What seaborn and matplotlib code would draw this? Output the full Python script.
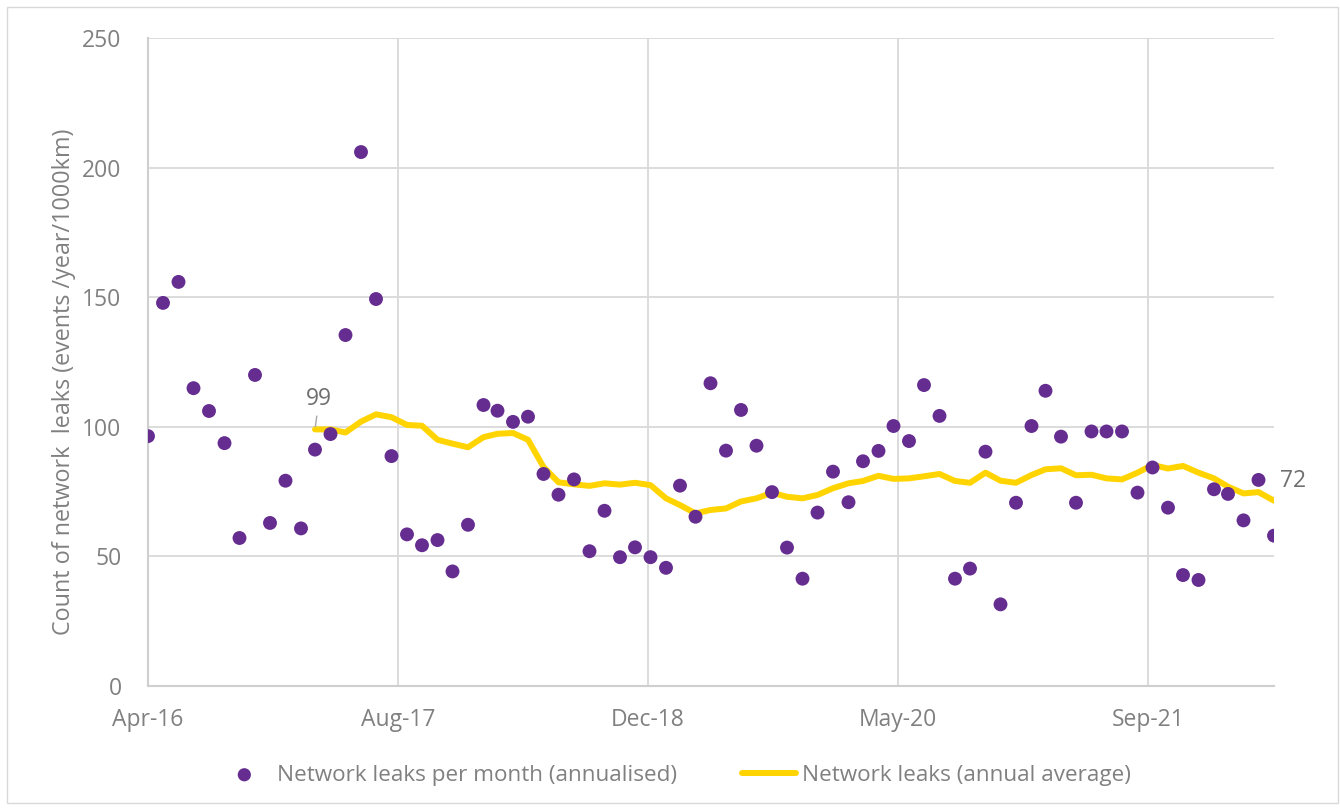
import matplotlib.pyplot as plt
import matplotlib.dates as mdates
import pandas as pd
import seaborn as sns
from matplotlib.patches import Rectangle

sns.set_style('white')
plt.rcParams['font.family'] = ['Open Sans', 'DejaVu Sans']

# network leaks per month, annualised (Apr-16 .. Jun-22)
monthly = [96.4, 147.8, 155.9, 114.9, 106.1, 93.7, 57.1, 120.0, 62.9, 79.2, 60.8, 91.2,
           97.2, 135.4, 206.0, 149.3, 88.7, 58.5, 54.3, 56.3, 44.2, 62.2, 108.4, 106.2,
           101.9, 103.9, 81.8, 73.8, 79.7, 52.0, 67.6, 49.7, 53.5, 49.7, 45.6, 77.3,
           65.3, 116.8, 90.8, 106.5, 92.7, 74.8, 53.4, 41.4, 66.9, 82.7, 70.9, 86.7,
           90.7, 100.3, 94.5, 116.1, 104.2, 41.4, 45.3, 90.4, 31.5, 70.7, 100.3, 113.9,
           96.2, 70.7, 98.2, 98.2, 98.2, 74.6, 84.3, 68.8, 42.8, 40.9, 75.9, 74.1,
           63.9, 79.5, 58.0]

# rolling annual average (Mar-17 .. Jun-22)
annual = [99.0, 99.0, 97.8, 102.0, 104.8, 103.7, 100.7, 100.4, 95.0, 93.5,
          92.1, 96.0, 97.3, 97.6, 95.0, 84.5, 78.6, 77.8, 77.2, 78.2, 77.7, 78.4,
          77.5, 72.4, 69.8, 66.6, 67.9, 68.5, 71.2, 72.4, 74.6, 73.0, 72.4, 73.7,
          76.3, 78.2, 79.1, 81.1, 79.9, 80.1, 80.9, 81.8, 79.1, 78.4, 82.3, 79.2,
          78.4, 81.4, 83.6, 84.0, 81.3, 81.5, 80.1, 79.7, 82.3, 85.3, 83.9, 84.9,
          82.3, 80.1, 76.9, 74.3, 74.8, 71.5]

# excel date axis: a label every 500 days
tick_dates = ['2016-04-01', '2017-08-14', '2018-12-27', '2020-05-10', '2021-09-22']

df = pd.DataFrame({'date': pd.date_range('2016-04-01', periods=len(monthly), freq='MS'),
                   'leaks': monthly})
df_avg = pd.DataFrame({'date': pd.date_range('2017-03-01', periods=len(annual), freq='MS'),
                       'avg': annual})

purple = '#662D91'
yellow = '#FFD400'
grey = '#808080'

fig = plt.figure(figsize=(13.4, 8.1), dpi=100)
ax = fig.add_axes([148/1340, 1 - 686/810, 1126/1340, 648/810])

sns.lineplot(data=df_avg, x='date', y='avg', color=yellow, linewidth=4.3,
             label='Network leaks (annual average)', ax=ax, zorder=2)
sns.scatterplot(data=df, x='date', y='leaks', color=purple, s=100, edgecolor='none',
                label='Network leaks per month (annualised)', ax=ax, zorder=3)

ax.set_ylim(0, 250)
ax.set_yticks(range(0, 251, 50))
ax.set_xlim(df['date'].iloc[0], df['date'].iloc[-1])
ax.set_xticks(pd.to_datetime(tick_dates))
ax.xaxis.set_major_formatter(mdates.DateFormatter('%b-%y'))

ax.grid(True, color='#d9d9d9', linewidth=1.3)
ax.set_axisbelow(True)
for side in ['top', 'right']:
    ax.spines[side].set_visible(False)
for side in ['left', 'bottom']:
    ax.spines[side].set_color('#cfcfcf')
    ax.spines[side].set_linewidth(1.5)
ax.tick_params(axis='y', length=0, pad=19, labelsize=16.5, labelcolor=grey)
ax.tick_params(axis='x', length=0, pad=16, labelsize=16.5, labelcolor=grey)

ax.set_xlabel('')
ax.set_ylabel('Count of network  leaks (events /year/1000km)', fontsize=16.8, color=grey)
ax.yaxis.set_label_coords(-0.064, 0.469)

# data labels at start and end of the average line
ax.annotate('99', xy=(df_avg['date'].iloc[0], annual[0]), xytext=(4, 30),
            textcoords='offset pixels', ha='center', va='center', fontsize=16.5, color='#6f6f6f',
            arrowprops=dict(arrowstyle='-', color='#a6a6a6', lw=1, shrinkA=1, shrinkB=2))
ax.annotate('72', xy=(df_avg['date'].iloc[-1], annual[-1]), xytext=(6, 20),
            textcoords='offset pixels', ha='left', va='center', fontsize=16.5, color='#6f6f6f')

handles, labels = ax.get_legend_handles_labels()
order = [labels.index('Network leaks per month (annualised)'),
         labels.index('Network leaks (annual average)')]
ax.legend([handles[i] for i in order], [labels[i] for i in order],
          loc='center', bbox_to_anchor=(0.503, 0.043), bbox_transform=fig.transFigure,
          ncol=2, frameon=False, fontsize=16.2, labelcolor=grey,
          handlelength=2.4, handletextpad=0.25, columnspacing=2.9, markerscale=0.95)

# thin border round the chart area
fig.patches.append(Rectangle((7/1340, 7/810), 1331/1340, 796/810, transform=fig.transFigure,
                             fill=False, edgecolor='#d9d9d9', linewidth=1))

fig.savefig('out.png', dpi=100)
